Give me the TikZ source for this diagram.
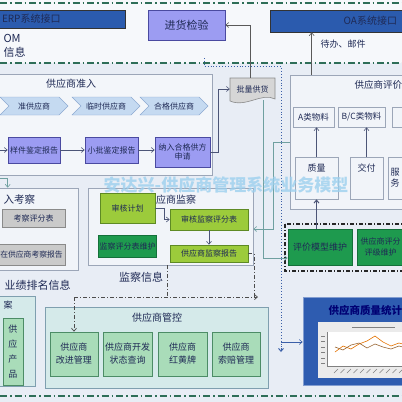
\documentclass[tikz,border=0pt]{standalone}
\usepackage{fontspec}
\setmainfont{Noto Sans CJK SC}
\usetikzlibrary{arrows.meta,shapes.symbols}
\definecolor{bgc}{HTML}{E8EDF5}
\definecolor{topbg}{HTML}{F6F8FB}
\definecolor{txt}{HTML}{1F2A55}
\definecolor{frm}{HTML}{9CA6B8}
\definecolor{navy}{HTML}{2B5BAE}
\definecolor{purp}{HTML}{9C9CF2}
\definecolor{purpd}{HTML}{4A4AA0}
\definecolor{chev}{HTML}{C5DAF1}
\definecolor{chevd}{HTML}{8DAAD2}
\definecolor{grayb}{HTML}{CACACA}
\definecolor{grayd}{HTML}{8A8A8A}
\definecolor{lgreen}{HTML}{9CCB3B}
\definecolor{lgreend}{HTML}{5E8A24}
\definecolor{dgreen}{HTML}{1E9A4E}
\definecolor{dgreend}{HTML}{14703A}
\definecolor{mgreen}{HTML}{A9DCB9}
\definecolor{mgreend}{HTML}{4C8C66}
\definecolor{pale}{HTML}{D5EAEA}
\definecolor{paled}{HTML}{7F9FAF}
\definecolor{dashc}{HTML}{2E6E58}
\definecolor{dotc}{HTML}{3A5FA8}
\definecolor{tealc}{HTML}{6FA0A0}
\definecolor{blueq}{HTML}{2E5CB0}
\definecolor{wm}{HTML}{9CD0EE}
\definecolor{plg}{HTML}{D6D6D6}

\begin{document}
\begin{tikzpicture}[x=1pt,y=-1pt,
  every node/.style={text=txt, font=\fontsize{8}{9.5}\selectfont},
  bx/.style={draw, line width=0.6pt, inner sep=1pt, align=center},
  pbox/.style={bx, fill=purp, draw=purpd},
  gbox/.style={bx, fill=grayb, draw=grayd},
  lgbox/.style={bx, fill=lgreen, draw=lgreend},
  dgbox/.style={bx, fill=dgreen, draw=dgreend, font=\fontsize{9}{11}\selectfont},
  mgbox/.style={bx, fill=mgreen, draw=mgreend, font=\fontsize{9}{13}\selectfont},
  area/.style={draw=frm, line width=0.7pt},
  wbox/.style={bx, fill=bgc!60!white, draw=frm},
  chevron/.style={signal, signal from=west, signal to=east, fill=chev, draw=chevd, minimum width=68pt, minimum height=18pt, inner sep=0pt},
  ttl/.style={font=\fontsize{10}{12}\selectfont},
  arr/.style={-{Straight Barb[length=3pt,width=5pt]}, draw=gray!70!black, line width=0.6pt},
  narr/.style={arr, draw=txt!80},
  tarr/.style={arr, draw=tealc},
  ddash/.style={draw=black!70, line width=0.7pt, dash pattern=on 4pt off 2pt on 1pt off 2pt},
  dline/.style={draw=dashc, line width=1.5pt, dash pattern=on 7pt off 3pt on 1.5pt off 3pt},
  dotl/.style={draw=dotc, line width=0.9pt, dotted}]
\useasboundingbox (0,0) rectangle (402,402);
\clip (0,0) rectangle (402,402);
\fill[bgc] (0,0) rectangle (402,402);
\fill[topbg] (0,0) rectangle (402,63);
\draw[dline] (0,3) -- (402,3);
\draw[dline] (0,63) -- (402,63);
\draw[dline] (0,396) -- (402,396);

\node[bx, fill=navy, draw=black!80, minimum width=130pt, minimum height=18pt, text width=116pt, align=left, font=\fontsize{10}{12}\selectfont] (erp) at (60,19) {ERP系统接口};
\node[anchor=west, font=\fontsize{11}{12}\selectfont] (bom) at (0,38) {OM};
\node[anchor=west, font=\fontsize{11}{12}\selectfont] (xx) at (0,52) {信息};
\node[pbox, minimum width=77pt, minimum height=30pt, font=\fontsize{11}{13}\selectfont] (jhjy) at (186.5,25) {进货检验};
\node[bx, fill=navy, draw=black!80, minimum width=140pt, minimum height=22pt, text width=114pt, align=right, font=\fontsize{10}{12}\selectfont] (oa) at (340,21) {OA系统接口};
\node[font=\fontsize{9}{11}\selectfont] (db) at (343,44) {待办、邮件};

\draw[area, fill=bgc!50!white] (-2,74) rectangle (212,175);
\node[ttl] (zrt) at (71,84) {供应商准入};
\node[chevron] (c1) at (34,106) {准供应商};
\node[chevron] (c2) at (106,106) {临时供应商};
\node[chevron] (c3) at (174,106) {合格供应商};
\node[pbox, minimum width=52pt, minimum height=26pt] (yj) at (34,150) {样件鉴定报告};
\node[pbox, minimum width=53pt, minimum height=26pt] (xp) at (111.5,150) {小批鉴定报告};
\node[pbox, minimum width=55pt, minimum height=30pt] (nr) at (182.5,152) {纳入合格供方\\申请};

\draw[fill=plg, draw=grayd, line width=0.6pt] (230,78) -- (275,78) -- (275,99) .. controls (262,92) and (246,108) .. (230,101) -- cycle;
\node[minimum width=45pt, minimum height=22pt, inner sep=0pt] (plgh) at (252.5,89) {批量供货};

\coordinate (in1) at (-1,150);
\draw[narr] (in1) -- (yj.west);
\draw[narr] (yj.east) -- (xp.west);
\draw[narr] (xp.east) -- (xp.east -| nr.west);
\draw[narr] (nr.east) -- ++(8,0) |- (plgh.west);
\draw[arr] ([xshift=-2.5pt]plgh.north) |- (jhjy.east);

\node[wbox, minimum width=80pt, minimum height=82pt] (rk) at (38,229) {};
\node[anchor=west, font=\fontsize{10.5}{12}\selectfont] (rkt) at (0,199) {入考察};
\node[gbox, minimum width=63pt, minimum height=18pt] (kp) at (33.5,218) {考察评分表};
\node[gbox, minimum width=67pt, minimum height=21pt, font=\fontsize{7.8}{9}\selectfont] (kb) at (31.5,254.5) {在供应商考察报告};
\coordinate (in2) at (-1,178);
\draw[tarr] (in2) -| ([xshift=10pt]rk.north west);

\node[wbox, minimum width=165pt, minimum height=77pt] (jc) at (170.5,226.5) {};
\node[ttl] (jct) at (176,200) {应商监察};
\node[lgbox, minimum width=55pt, minimum height=30pt] (shjh) at (127.5,208) {审核计划};
\node[lgbox, minimum width=78pt, minimum height=21pt] (shpf) at (209,219.5) {审核监察评分表};
\node[dgbox, minimum width=55pt, minimum height=22pt, font=\fontsize{8}{9.5}\selectfont] (jcwh) at (127.5,246) {监察评分表维护};
\node[lgbox, minimum width=78pt, minimum height=17pt] (jcbg) at (209,253.5) {供应商监察报告};
\draw[narr] (shjh.east) -- ++(9,0) |- (shpf.west);
\draw[narr] (shpf.south) -- (jcbg.north);
\node[font=\fontsize{11}{12}\selectfont] (jcxx) at (141,277) {监察信息};

\node[anchor=west, font=\fontsize{11}{12}\selectfont] (yjpm) at (1,285) {业绩排名信息};

\node[bx, fill=pale, draw=paled, minimum width=37pt, minimum height=90pt] (da) at (16.5,341) {};
\node[anchor=west, font=\fontsize{9}{10}\selectfont] (dat) at (0,305) {案};
\node[bx, fill=mgreen, draw=mgreend, minimum width=20pt, minimum height=67pt, font=\fontsize{9}{15}\selectfont] (cp) at (13,352) {供\\应\\产\\品};

\node[bx, fill=pale, draw=paled, minimum width=223pt, minimum height=81pt] (gk) at (156.5,347.5) {};
\node[ttl] (gkt) at (157,318) {供应商管控};
\node[mgbox, minimum width=48pt, minimum height=44pt] (gj1) at (74,354) {供应商\\改进管理};
\node[mgbox, minimum width=49pt, minimum height=44pt] (gj2) at (127.5,354) {供应商开发\\状态查询};
\node[mgbox, minimum width=49pt, minimum height=44pt] (gj3) at (182.5,354) {供应商\\红黄牌};
\node[mgbox, minimum width=48pt, minimum height=44pt] (gj4) at (236,354) {供应商\\索赔管理};

\coordinate (jx) at (74,297);
\coordinate (jy) at (258,297);
\draw[ddash] (jcbg.east) -| (254,297);
\draw[ddash] (jc.south -| 167,0) -- (167,297);
\draw[ddash, -{Straight Barb[length=3pt,width=5pt]}] (jx) -- (jy);
\draw[ddash, -{Straight Barb[length=3pt,width=5pt]}] (jx) -- (gj1.north);

\node[wbox, minimum width=124pt, minimum height=134pt] (pj) at (352,142) {};
\node[anchor=west, font=\fontsize{9.5}{11}\selectfont] (pjt) at (351,85) {供应商评价};
\node[wbox, minimum width=41pt, minimum height=20pt, font=\fontsize{8.5}{10}\selectfont] (am) at (313.5,117) {A类物料};
\node[wbox, minimum width=47pt, minimum height=20pt, font=\fontsize{8.5}{10}\selectfont] (bc) at (361.5,117) {B/C类物料};
\node[wbox, minimum width=20pt, minimum height=20pt] (x3) at (402,117) {};
\node[wbox, minimum width=43pt, minimum height=42pt] (zl) at (316.5,178) {};
\node[wbox, minimum width=33pt, minimum height=42pt] (jf) at (366.5,178) {};
\node[wbox, minimum width=24pt, minimum height=42pt] (fw) at (400,178) {};
\node[font=\fontsize{9}{10}\selectfont] at ([yshift=-11pt]zl.north) {质量};
\node[font=\fontsize{9}{10}\selectfont] at ([yshift=-11pt]jf.north) {交付};
\node[font=\fontsize{9}{11}\selectfont, align=center] at (395,178) {服\\务};
\draw[narr] (zl.north) -- (zl.north |- am.south);
\draw[narr] (jf.north) -- (jf.north |- bc.south);
\draw[arr] ([xshift=22pt]pj.north west) -- ([xshift=22pt]pj.north west |- oa.south);

\draw[ddash, line width=1.2pt, draw=black!85] (285,224) rectangle (412,271);
\node[dgbox, minimum width=64pt, minimum height=36pt] (pjmx) at (320,247) {评价模型维护};
\node[dgbox, minimum width=47pt, minimum height=36pt, font=\fontsize{8}{11}\selectfont] (pfwh) at (380.5,247) {供应商评分\\评级维护};
\draw[narr, line width=1pt] (pjmx.north -| zl.south) -- (zl.south);

\coordinate (t1) at (273,229);
\draw[tarr] (pj.west |- 0,142) -| (t1) -- (jc.east |- t1);
\draw[tarr] ([xshift=-12pt]plgh.south east) |- ([yshift=-11pt]pjmx.west);

\coordinate (d1) at (204,58);
\coordinate (d2) at (281,352);
\draw[dotl] (d1) |- (281,66) -- (d2);
\draw[dotl, solid, -{Straight Barb[length=3pt,width=5pt]}] (281,348) -- (d2);

\node[bx, fill=blueq, draw=blueq!60!white, minimum width=109pt, minimum height=88pt] (zltj) at (357.5,341) {};
\node[anchor=west, font=\bfseries\fontsize{10.5}{12}\selectfont, text=blue!45!black] (zltjt) at (325,310) {供应商质量统计};
\draw[narr, draw=dotc] (281,342) -- (zltj.west |- 0,342);
\fill[black!8] (318,322) rectangle (412,378);
\fill[white] (327,332) rectangle (412,366);
\draw[gray, line width=0.6pt] (352,327) -- (395,327);
\draw[gray, line width=0.3pt] (327,332) -- (327,366) -- (412,366);
\foreach \j in {0,...,5} \draw[gray, line width=0.3pt] (321,{336+\j*5.5}) -- ++(4,0);
\foreach \i in {0,...,11} \draw[gray, line width=0.4pt] ({334+\i*6.5},373) -- ++(4,-4);
\draw[orange!90!black, line width=0.6pt] plot coordinates {(335,352) (343,346) (351,349) (359,344) (367,341) (375,336) (383,342) (391,346) (399,343) (407,345)};
\draw[brown!80!black, line width=0.6pt] plot coordinates {(335,347) (343,350) (351,345) (359,343) (367,348) (375,344) (383,347) (391,349) (399,346) (407,348)};

\node[font=\bfseries\fontsize{17}{19}\selectfont, text=wm, opacity=0.8] (wmk) at (226,185) {安达兴-供应商管理系统业务模型};
\end{tikzpicture}
\end{document}
